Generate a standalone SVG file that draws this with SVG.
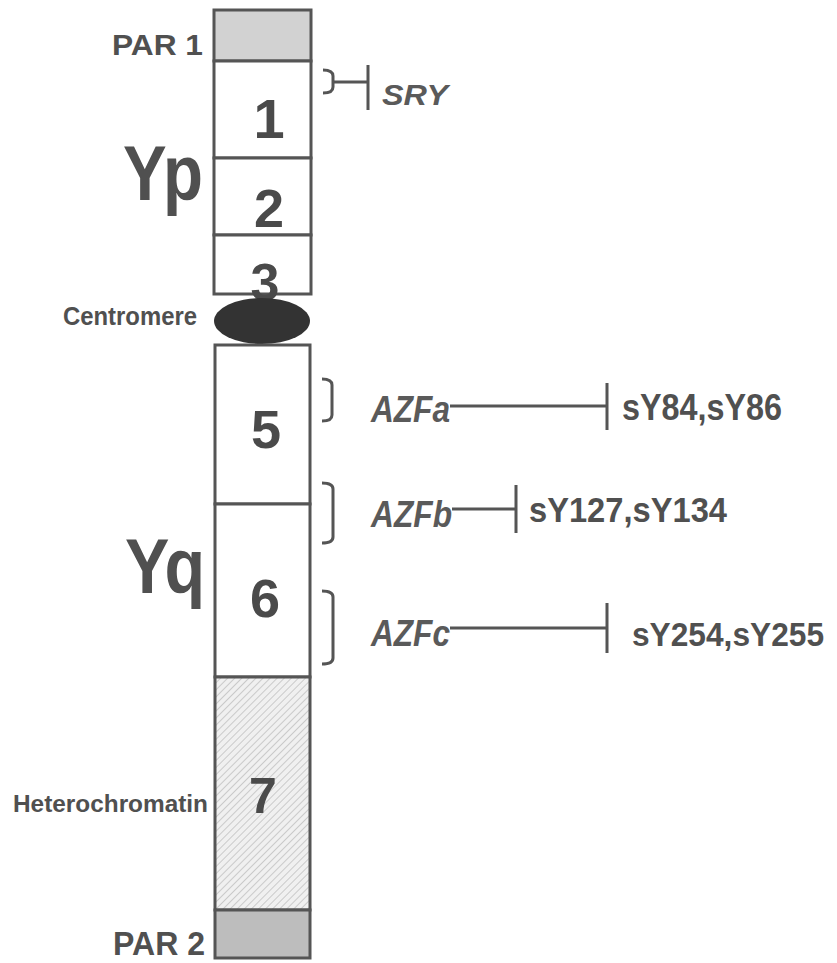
<svg xmlns="http://www.w3.org/2000/svg" width="837" height="963" viewBox="0 0 837 963">
<style>
.box{stroke:#555;stroke-width:3;fill:#fff}
.lbl{font-family:"Liberation Sans",Arial,sans-serif;font-weight:bold;fill:#505050}
.it{font-family:"Liberation Sans",Arial,sans-serif;font-weight:bold;font-style:italic;fill:#5a5a5a}
.num{font-family:"Liberation Sans",Arial,sans-serif;font-weight:bold;fill:#4a4a4a;text-anchor:middle}
.ln{stroke:#555;stroke-width:3;fill:none}
</style>
<defs>
<pattern id="hatch" width="5" height="5" patternUnits="userSpaceOnUse" patternTransform="rotate(45)">
<rect width="5" height="5" fill="#f0f0f0"/>
<line x1="0" y1="0" x2="0" y2="5" stroke="#b0b0b0" stroke-width="1.2"/>
</pattern>
</defs>
<rect width="837" height="963" fill="#fff"/>
<g id="par1">
<rect class="box" x="214" y="10" width="97" height="51" style="fill:#d2d2d2"/>
<text class="lbl" x="112" y="55" font-size="30" textLength="91" lengthAdjust="spacingAndGlyphs">PAR 1</text>
</g>
<g id="band1">
<rect class="box" x="214" y="61" width="97" height="97"/>
<text class="num" x="269" y="138" font-size="56">1</text>
</g>
<g id="band2">
<rect class="box" x="214" y="158" width="97" height="77"/>
<text class="num" x="269" y="227" font-size="54">2</text>
</g>
<g id="band3">
<rect class="box" x="214" y="235" width="97" height="59"/>
<text class="num" x="265" y="300" font-size="52">3</text>
</g>
<g id="yp">
<text class="lbl" x="123" y="200" font-size="78" textLength="80" lengthAdjust="spacingAndGlyphs">Yp</text>
</g>
<g id="centromere">
<ellipse cx="262" cy="321" rx="48" ry="23" fill="#333"/>
<text class="lbl" x="63" y="325" font-size="25" textLength="134" lengthAdjust="spacingAndGlyphs">Centromere</text>
</g>
<g id="band5">
<rect class="box" x="215" y="345" width="95" height="159"/>
<text class="num" x="266" y="448" font-size="54">5</text>
</g>
<g id="band6">
<rect class="box" x="215" y="504" width="95" height="173"/>
<text class="num" x="265" y="617" font-size="54">6</text>
</g>
<g id="yq">
<text class="lbl" x="125" y="593" font-size="77" textLength="80" lengthAdjust="spacingAndGlyphs">Yq</text>
</g>
<g id="band7">
<rect class="box" x="215" y="677" width="95" height="233" style="fill:url(#hatch)"/>
<text class="num" x="263" y="813" font-size="50">7</text>
<text class="lbl" x="13" y="812" font-size="23" textLength="195" lengthAdjust="spacingAndGlyphs">Heterochromatin</text>
</g>
<g id="par2">
<rect class="box" x="215" y="910" width="95" height="48" style="fill:#bdbdbd"/>
<text class="lbl" x="113" y="955" font-size="33" textLength="92" lengthAdjust="spacingAndGlyphs">PAR 2</text>
</g>
<g id="connectors">
<path class="ln" d="M323,70 Q333,70 333,76 L333,87 Q333,93 323,93"/>
<path class="ln" d="M333,82 H368 M368,65 V110"/>
<path class="ln" d="M322,379 Q332,379 332,385 L332,415 Q332,421 322,421"/>
<path class="ln" d="M450,406 H607 M607,383 V430"/>
<path class="ln" d="M322,483 Q333,483 333,489 L333,537 Q333,543 322,543"/>
<path class="ln" d="M452,509 H516 M516,485 V533"/>
<path class="ln" d="M322,591 Q333,591 333,597 L333,658 Q333,664 322,664"/>
<path class="ln" d="M450,628 H607 M607,603 V653"/>
</g>
<g id="sry">
<text class="it" x="382" y="105" font-size="30" textLength="66" lengthAdjust="spacingAndGlyphs">SRY</text>
</g>
<g id="azfa">
<text class="it" x="371" y="422" font-size="37" textLength="79" lengthAdjust="spacingAndGlyphs">AZFa</text>
<text class="lbl" x="622" y="420" font-size="36" textLength="160" lengthAdjust="spacingAndGlyphs">sY84,sY86</text>
</g>
<g id="azfb">
<text class="it" x="371" y="527" font-size="37" textLength="81" lengthAdjust="spacingAndGlyphs">AZFb</text>
<text class="lbl" x="529" y="522" font-size="35" textLength="198" lengthAdjust="spacingAndGlyphs">sY127,sY134</text>
</g>
<g id="azfc">
<text class="it" x="371" y="646" font-size="37" textLength="79" lengthAdjust="spacingAndGlyphs">AZFc</text>
<text class="lbl" x="632" y="646" font-size="33" textLength="192" lengthAdjust="spacingAndGlyphs">sY254,sY255</text>
</g>
</svg>
